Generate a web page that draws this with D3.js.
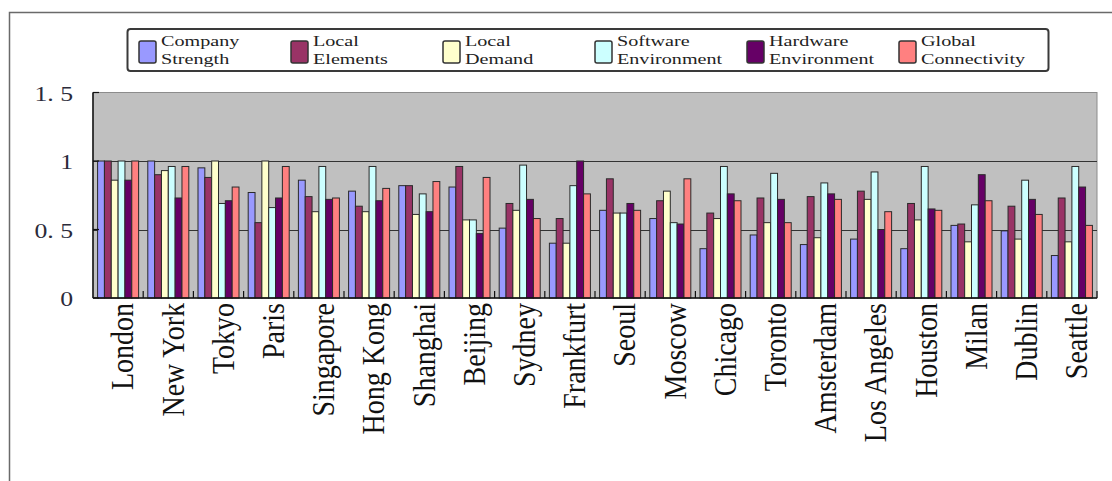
<!DOCTYPE html>
<html>
<head>
<meta charset="utf-8">
<script src="https://cdn.jsdelivr.net/npm/d3@7/dist/d3.min.js"></script>
<style>
  html, body { margin: 0; padding: 0; background: #ffffff; }
  svg { display: block; }
  text { font-family: "Liberation Serif", "Times New Roman", serif; }
</style>
</head>
<body>
<svg id="chart" width="1112" height="481"></svg>
<script>
// Cities along the x axis
const categories = ["London", "New York", "Tokyo", "Paris", "Singapore", "Hong Kong", "Shanghai",
  "Beijing", "Sydney", "Frankfurt", "Seoul", "Moscow", "Chicago", "Toronto", "Amsterdam",
  "Los Angeles", "Houston", "Milan", "Dublin", "Seattle"];

// Index scores per city, one array per factor
const companyStrength = [1.00, 1.00, 0.95, 0.77, 0.86, 0.78, 0.82, 0.81, 0.51, 0.40, 0.64, 0.58, 0.36, 0.46, 0.39, 0.43, 0.36, 0.53, 0.49, 0.31];
const localElements   = [1.00, 0.90, 0.88, 0.55, 0.74, 0.67, 0.82, 0.96, 0.69, 0.58, 0.87, 0.71, 0.62, 0.73, 0.74, 0.78, 0.69, 0.54, 0.67, 0.73];
const localDemand     = [0.86, 0.93, 1.00, 1.00, 0.63, 0.63, 0.61, 0.57, 0.64, 0.40, 0.62, 0.78, 0.58, 0.55, 0.44, 0.72, 0.57, 0.41, 0.43, 0.41];
const softwareEnv     = [1.00, 0.96, 0.69, 0.66, 0.96, 0.96, 0.76, 0.57, 0.97, 0.82, 0.62, 0.55, 0.96, 0.91, 0.84, 0.92, 0.96, 0.68, 0.86, 0.96];
const hardwareEnv     = [0.86, 0.73, 0.71, 0.73, 0.72, 0.71, 0.63, 0.47, 0.72, 1.00, 0.69, 0.54, 0.76, 0.72, 0.76, 0.50, 0.65, 0.90, 0.72, 0.81];
const globalConn      = [1.00, 0.96, 0.81, 0.96, 0.73, 0.80, 0.85, 0.88, 0.58, 0.76, 0.64, 0.87, 0.71, 0.55, 0.72, 0.63, 0.64, 0.71, 0.61, 0.53];

// Legend labels (two lines each)
const seriesNames = [
  ["Company", "Strength"],
  ["Local", "Elements"],
  ["Local", "Demand"],
  ["Software", "Environment"],
  ["Hardware", "Environment"],
  ["Global", "Connectivity"]
];
const seriesColors = ["#9999ff", "#993366", "#ffffcc", "#ccffff", "#660066", "#ff8080"];

// Y axis ticks and their printed labels
const yTicks = [0, 0.5, 1, 1.5];
const yTickLabels = ["0", "0. 5", "1", "1. 5"];

const seriesValues = [companyStrength, localElements, localDemand, softwareEnv, hardwareEnv, globalConn];

const svg = d3.select("#chart");

// Outer chart frame
svg.append("path")
  .attr("d", "M9.5,481 L9.5,12.5 L1112,12.5")
  .attr("fill", "none")
  .attr("stroke", "#6a6a6a")
  .attr("stroke-width", 1.5);

const plot = { left: 93, right: 1097, top: 92.5, bottom: 298 };

const x = d3.scaleBand()
  .domain(categories)
  .range([plot.left, plot.right])
  .paddingInner(0.183)
  .paddingOuter(0.0915);

const xInner = d3.scaleBand()
  .domain(d3.range(seriesValues.length))
  .range([0, x.bandwidth()]);

const y = d3.scaleLinear().domain([0, 1.5]).range([plot.bottom, plot.top]);

// Plot background
svg.append("rect")
  .attr("x", plot.left).attr("y", plot.top)
  .attr("width", plot.right - plot.left)
  .attr("height", plot.bottom - plot.top)
  .attr("fill", "#c0c0c0")
  .attr("stroke", "#8c8c8c")
  .attr("stroke-width", 1);

// Horizontal gridlines
svg.append("g")
  .selectAll("line")
  .data([0.5, 1])
  .join("line")
  .attr("x1", plot.left).attr("x2", plot.right)
  .attr("y1", d => Math.round(y(d)) + 0.5)
  .attr("y2", d => Math.round(y(d)) + 0.5)
  .attr("stroke", "#333333")
  .attr("stroke-width", 1.2);

// Bars
const groups = svg.append("g")
  .selectAll("g")
  .data(categories)
  .join("g")
  .attr("transform", d => `translate(${x(d)},0)`);

groups.selectAll("rect")
  .data((d, i) => seriesValues.map((s, k) => ({ k, v: s[i] })))
  .join("rect")
  .attr("x", d => xInner(d.k))
  .attr("width", xInner.bandwidth())
  .attr("y", d => y(d.v))
  .attr("height", d => y(0) - y(d.v))
  .attr("fill", d => seriesColors[d.k])
  .attr("stroke", "#2a2a2a")
  .attr("stroke-width", 1);

// Y axis line and inner ticks
svg.append("line")
  .attr("x1", plot.left).attr("x2", plot.left)
  .attr("y1", plot.top).attr("y2", plot.bottom)
  .attr("stroke", "#111").attr("stroke-width", 1.5);

svg.append("g")
  .selectAll("line")
  .data(yTicks)
  .join("line")
  .attr("x1", plot.left).attr("x2", plot.left + 6)
  .attr("y1", d => y(d)).attr("y2", d => y(d))
  .attr("stroke", "#111").attr("stroke-width", 1.2);

svg.append("g")
  .selectAll("text")
  .data(yTicks)
  .join("text")
  .attr("transform", d => `translate(73,${y(d) + 1}) scale(1.17,1)`)
  .attr("text-anchor", "end")
  .attr("dy", "0.34em")
  .attr("font-size", 22)
  .attr("fill", "#2b2b3a")
  .text((d, i) => yTickLabels[i]);

// X axis line and inner tick marks between categories
svg.append("line")
  .attr("x1", plot.left).attr("x2", plot.right)
  .attr("y1", plot.bottom).attr("y2", plot.bottom)
  .attr("stroke", "#111").attr("stroke-width", 1.5);

const boundaries = categories.slice(1).map(c => x(c) - x.step() * x.paddingInner() / 2);
boundaries.push(plot.right);
svg.append("g")
  .selectAll("line")
  .data(boundaries)
  .join("line")
  .attr("x1", d => d).attr("x2", d => d)
  .attr("y1", plot.bottom).attr("y2", plot.bottom - 7)
  .attr("stroke", "#111").attr("stroke-width", 1.2);

// Category labels, rotated
svg.append("g")
  .selectAll("text")
  .data(categories)
  .join("text")
  .attr("transform", d => `translate(${x(d) + x.bandwidth() / 2 + 4},303) scale(1.15,1) rotate(-90)`)
  .attr("text-anchor", "end")
  .attr("dy", "0.35em")
  .attr("font-size", 28)
  .attr("fill", "#111")
  .text(d => d);

// Legend
const legend = svg.append("g");
legend.append("rect")
  .attr("x", 127.5).attr("y", 29)
  .attr("width", 921).attr("height", 42)
  .attr("rx", 3)
  .attr("fill", "#ffffff")
  .attr("stroke", "#3a3a3a")
  .attr("stroke-width", 2);

const items = legend.selectAll("g.item")
  .data(seriesNames)
  .join("g")
  .attr("class", "item")
  .attr("transform", (d, i) => `translate(${139 + i * 152},0)`);

items.append("rect")
  .attr("x", 0).attr("y", 41)
  .attr("width", 17).attr("height", 22)
  .attr("rx", 2)
  .attr("fill", (d, i) => seriesColors[i])
  .attr("stroke", "#333")
  .attr("stroke-width", 1.5);

// Two stacked lines per legend label
items.each(function (d) {
  const g = d3.select(this);
  d.forEach((line, j) => {
    g.append("text")
      .attr("transform", `translate(22,${45.5 + j * 18}) scale(1.3,1)`)
      .attr("font-size", 15.5)
      .attr("fill", "#222")
      .text(line);
  });
});
</script>
</body>
</html>
